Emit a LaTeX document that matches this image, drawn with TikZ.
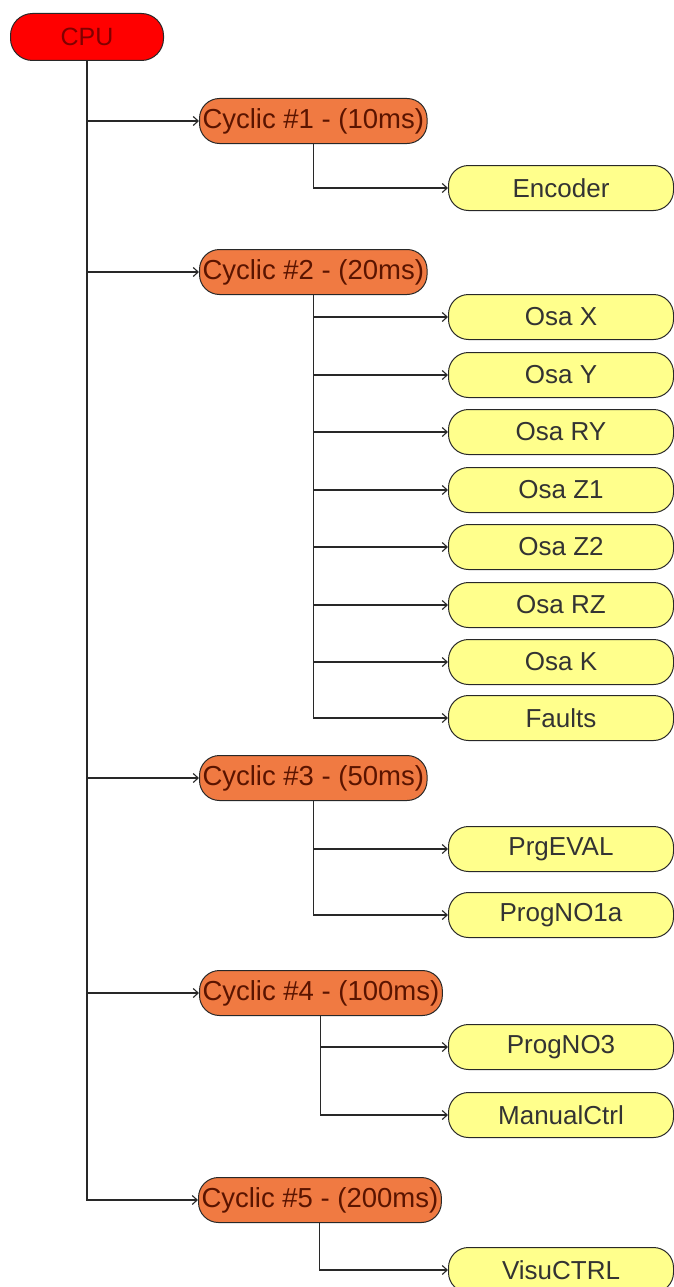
\documentclass[tikz,border=0pt]{standalone}
\usepackage{fontspec}
\setmainfont{Liberation Sans}
\usetikzlibrary{arrows.meta}
\definecolor{cpured}{RGB}{255,0,0}
\definecolor{cycor}{RGB}{240,122,66}
\definecolor{leafyel}{RGB}{255,255,140}
\definecolor{edgec}{RGB}{40,40,40}
\definecolor{cyctxt}{RGB}{90,20,0}
\begin{document}
\begin{tikzpicture}[x=1pt,y=-1pt,
  cpubox/.style={draw=edgec,line width=1pt,fill=cpured,rounded corners=22pt,minimum width=153pt,minimum height=47pt,inner sep=0pt,text=red!50!black,font=\fontsize{25}{28}\selectfont},
  cycbox/.style={draw=edgec,line width=1pt,fill=cycor,rounded corners=20pt,minimum height=45pt,inner xsep=3pt,inner ysep=0pt,anchor=west,text=cyctxt,font=\fontsize{27.5}{30}\selectfont},
  leafbox/.style={draw=edgec,line width=1pt,fill=leafyel,rounded corners=20pt,minimum width=225pt,minimum height=45pt,inner sep=0pt,text=black!80,font=\fontsize{26}{29}\selectfont,anchor=west},
  conn/.style={draw=edgec,line width=1.1pt,-{Straight Barb[length=5pt,width=9pt,line width=1.1pt]}}]
\useasboundingbox (0,0) rectangle (673,1287);
\node[cpubox] (cpu) at (87,37) {CPU};
\node[cycbox] (c1) at (199,121) {Cyclic \#1 - (10ms)};
\node[cycbox] (c2) at (199,272) {Cyclic \#2 - (20ms)};
\node[cycbox] (c3) at (199,778) {Cyclic \#3 - (50ms)};
\node[cycbox] (c4) at (199,993) {Cyclic \#4 - (100ms)};
\node[cycbox] (c5) at (198,1200) {Cyclic \#5 - (200ms)};
\node[leafbox] (enc) at (448,188) {Encoder};
\node[leafbox] (ox) at (448,317) {Osa X};
\node[leafbox] (oy) at (448,375) {Osa Y};
\node[leafbox] (ory) at (448,432) {Osa RY};
\node[leafbox] (oz1) at (448,490) {Osa Z1};
\node[leafbox] (oz2) at (448,547) {Osa Z2};
\node[leafbox] (orz) at (448,605) {Osa RZ};
\node[leafbox] (ok) at (448,662) {Osa K};
\node[leafbox] (fl) at (448,718) {Faults};
\node[leafbox] (pe) at (448,849) {PrgEVAL};
\node[leafbox] (p1) at (448,915) {ProgNO1a};
\node[leafbox] (p3) at (448,1047) {ProgNO3};
\node[leafbox] (mc) at (448,1115) {ManualCtrl};
\node[leafbox] (vc) at (448,1270) {VisuCTRL};
\foreach \c in {c1,c2,c3,c4,c5} \draw[conn] (cpu.south) |- (\c.west);
\draw[conn] (c1.south) |- (enc.west);
\foreach \l in {ox,oy,ory,oz1,oz2,orz,ok,fl} \draw[conn] (c2.south) |- (\l.west);
\foreach \l in {pe,p1} \draw[conn] (c3.south) |- (\l.west);
\foreach \l in {p3,mc} \draw[conn] (c4.south) |- (\l.west);
\draw[conn] (c5.south) |- (vc.west);
\end{tikzpicture}
\end{document}
